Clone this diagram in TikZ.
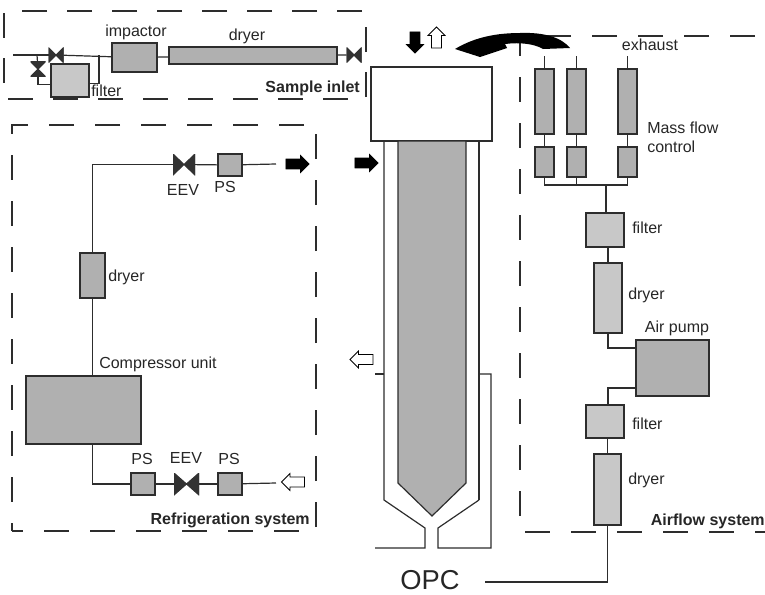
\documentclass[tikz,border=0pt]{standalone}
\usepackage{fontspec}
\setmainfont{Liberation Sans}
\usetikzlibrary{positioning,shapes.arrows,calc}
\definecolor{partdark}{RGB}{176,176,176}
\definecolor{partlight}{RGB}{200,200,200}
\definecolor{valvecolor}{RGB}{50,50,50}
\definecolor{linecolor}{RGB}{45,45,45}

\begin{document}
\begin{tikzpicture}[
    x=0.75pt, y=-0.75pt,
    sized/.style 2 args={minimum width=#1*0.75pt, minimum height=#2*0.75pt},
    part/.style={rectangle, draw=linecolor, line width=0.9pt, inner sep=0pt, outer sep=0pt},
    dark/.style={part, fill=partdark},
    light/.style={part, fill=partlight},
    valve/.style={rectangle, inner sep=0pt, outer sep=0pt, sized={15}{15},
        path picture={\filldraw[valvecolor, line width=0.8pt] (path picture bounding box.north west) -- (path picture bounding box.south east)
            -- (path picture bounding box.north east) -- (path picture bounding box.south west) -- cycle;}},
    valveup/.style={rectangle, inner sep=0pt, outer sep=0pt, sized={15}{15},
        path picture={\filldraw[valvecolor, line width=0.8pt] (path picture bounding box.north west) -- (path picture bounding box.south east)
            -- (path picture bounding box.south west) -- (path picture bounding box.north east) -- cycle;}},
    frame/.style 2 args={draw=linecolor, line width=0.8pt, dash pattern=on 18.75pt off #1pt, dash phase=#2pt},
    pipe/.style={draw=linecolor, line width=0.9pt},
    wall/.style={draw=linecolor, line width=0.9pt},
    flow/.style={single arrow, draw=black, line width=0.6pt, inner xsep=0pt, inner ysep=3.4pt,
        single arrow head extend=2.6pt, single arrow head indent=0pt, minimum height=#1*0.75pt},
    hot/.style={flow=#1, fill=black},
    cold/.style={flow=#1, fill=white},
    txt/.style={font=\fontsize{12}{14}\selectfont, inner sep=0pt, text=black!85},
    title/.style={txt, font=\fontsize{12}{14}\selectfont\bfseries}
]
\useasboundingbox (0,0) rectangle (765,594);

% ===== FRAMES =====
\node[rectangle, frame={15}{30.75}, sized={362}{88}] (inlet_frame) at (185,55) {};
\node[rectangle, frame={15.75}{10.5}, sized={304}{406}] (refrig_frame) at (164,328) {};
\coordinate (air_tr) at (765,36);
\coordinate (air_tl) at (520,36);
\coordinate (air_bl) at (520,532);
\coordinate (air_br) at (765,532);
\draw[frame={15.75}{27}] (air_tr) -- (air_tl) -- (air_bl) -- (air_br);

% ===== SAMPLE INLET =====
\coordinate (inlet_in) at (13,55);
\coordinate (tee_left) at (37,55);
\coordinate (tee_right) at (99,55);
\node[valve] (inlet_valve) at (56,55) {};
\node[valveup] (bypass_valve) at (38,69) {};
\node[light, sized={38}{33}] (inlet_filter) at (70,80.5) {};
\node[dark, sized={45}{29}] (impactor) at (134.5,57.5) {};
\node[dark, sized={168}{17}] (inlet_dryer) at (253,55.5) {};
\node[valve] (outlet_valve) at (354,55) {};

\node[txt] at (136,32) {impactor};
\node[txt] at (247,36) {dryer};
\node[txt, anchor=west] at (91,91) {filter};
\node[title, anchor=east] at (360,88) {Sample inlet};

\draw[pipe] (inlet_in) -- (inlet_valve);
\draw[pipe] (inlet_valve) -- (impactor);
\draw[pipe] (impactor) -- (inlet_dryer);
\draw[pipe] (inlet_dryer) -- (outlet_valve);
\draw[pipe] (tee_left) -- (bypass_valve);
\draw[pipe] (bypass_valve) |- ($(inlet_filter.west)+(0,4)$);
\draw[pipe] (tee_right) |- ($(inlet_filter.east)+(0,3)$);

% ===== REFRIGERATION SYSTEM =====
\coordinate (top_corner) at (92,164);
\coordinate (bottom_corner) at (92,483);
\coordinate (top_end) at (276,164);
\coordinate (bottom_end) at (276,483);
\node[valve, sized={22}{21}] (top_eev) at (184,164.5) {};
\node[dark, sized={24}{22}] (top_ps) at (230,165) {};
\node[dark, sized={25}{45}] (refrig_dryer) at (92.5,275.5) {};
\node[dark, sized={115}{68}] (compressor) at (83.5,410) {};
\node[dark, sized={24}{22}] (ps_one) at (143,484) {};
\node[valve, sized={25}{22}] (bottom_eev) at (186.5,484) {};
\node[dark, sized={24}{22}] (ps_two) at (230,484) {};

\node[txt] at (183,190) {EEV};
\node[txt] at (225,187) {PS};
\node[txt, anchor=west] at (108,277) {dryer};
\node[txt, anchor=west] at (99,364) {Compressor unit};
\node[txt] at (142,459) {PS};
\node[txt] at (186,458) {EEV};
\node[txt] at (229,459) {PS};
\node[title, anchor=east] at (310,520) {Refrigeration system};

\draw[pipe] (refrig_dryer.north) |- (top_eev);
\draw[pipe] (top_eev) -- (top_ps);
\draw[pipe] (top_ps) -- (top_end);
\draw[pipe] (refrig_dryer.south) -- (refrig_dryer.south |- compressor.north);
\draw[pipe] (refrig_dryer.south |- compressor.south) |- (ps_one);
\draw[pipe] (ps_one) -- (bottom_eev);
\draw[pipe] (bottom_eev) -- (ps_two);
\draw[pipe] (ps_two) -- (bottom_end);

\node[hot=23] (refrig_out) at (295,164) {};
\node[cold=23, rotate=180] (refrig_in) at (295.5,482) {};

% ===== CHAMBER =====
\node[part, fill=white, sized={121}{74}] (chamber) at (431.5,104) {};
\draw[wall, line width=1.8pt] (chamber.north west) -- (chamber.south west);
\coordinate (wall_l) at (384,141);
\coordinate (wall_r) at (479,141);
\coordinate (wall_lb) at (384,500);
\coordinate (wall_rb) at (479,500);
\coordinate (neck_lt) at (425,528);
\coordinate (neck_rt) at (438,528);
\coordinate (neck_lb) at (425,548);
\coordinate (neck_rb) at (438,548);
\coordinate (base_l) at (375,548);
\coordinate (base_r) at (491,548);
\coordinate (jacket_r) at (491,374);
\coordinate (jacket_w) at (479,374);
\coordinate (stub_l) at (375,374);
\coordinate (stub_w) at (384,374);
\draw[wall] (wall_l) -- (wall_lb) -- (neck_lt) -- (neck_lb) -- (base_l);
\draw[wall, line width=1.8pt] (wall_r) -- (wall_rb);
\draw[wall] (wall_rb) -- (neck_rt) -- (neck_rb) -- (base_r) -- (jacket_r) -- (jacket_w);
\draw[wall] (stub_l) -- (stub_w);

\coordinate (core_tl) at (398,141);
\coordinate (core_tr) at (466,141);
\coordinate (core_br) at (466,483);
\coordinate (core_tip) at (432,516);
\coordinate (core_bl) at (398,483);
\draw[wall, fill=partdark] (core_tl) -- (core_tr) -- (core_br) -- (core_tip) -- (core_bl) -- cycle;

\node[hot=23] (chamber_in) at (364,163) {};
\node[cold=23, rotate=180] (chamber_out) at (364,359.5) {};
\node[hot=21, rotate=-90] (sample_down) at (415,40) {};
\node[cold=21, rotate=90] (sample_up) at (436.5,40) {};

% ===== EXHAUST ARROW =====
\coordinate (bend_tip) at (455,49);
\coordinate (bend_tail) at (570,48);
\fill[black] (bend_tip) .. controls (470,40) and (490,33) .. (520,33)
    .. controls (545,32) and (562,38) .. (bend_tail) -- (543,49)
    .. controls (535,44) and (520,42) .. (505,44) -- (507,48) -- (480,57) -- cycle;

% ===== AIRFLOW SYSTEM =====
\node[dark, sized={19}{65}] (mfc_a) at (544.5,101.5) {};
\node[dark, sized={19}{65}] (mfc_b) at (576.5,101.5) {};
\node[dark, sized={19}{65}] (mfc_c) at (627.5,101.5) {};
\node[dark, sized={19}{30}] (ctrl_a) at (544.5,162) {};
\node[dark, sized={19}{30}] (ctrl_b) at (576.5,162) {};
\node[dark, sized={19}{30}] (ctrl_c) at (627.5,162) {};
\node[light, sized={38}{34}] (filter_a) at (605,230) {};
\node[light, sized={28}{70}] (dryer_a) at (608,298) {};
\node[dark, sized={73}{56}] (pump) at (672.5,368) {};
\node[light, sized={38}{33}] (filter_b) at (605,421.5) {};
\node[light, sized={27}{71}] (dryer_b) at (607.5,489.5) {};
\node[txt, inner sep=0pt] (opc) at (430,580) {\fontsize{20.5}{22}\selectfont OPC};

\coordinate (exhaust_a) at (544.5,56);
\coordinate (exhaust_b) at (576.5,56);
\coordinate (exhaust_c) at (627.5,56);
\coordinate (bus_a) at (544.5,185);
\coordinate (bus_c) at (627.5,185);
\coordinate (bus_mid) at (606,185);
\coordinate (pump_top) at (608,348);
\coordinate (pump_low) at (608,388);
\coordinate (opc_end) at (485,582);
\coordinate (opc_corner) at (607.5,582);

\foreach \name in {a,b,c} {
    \draw[pipe] (exhaust_\name) -- (mfc_\name);
    \draw[pipe] (mfc_\name) -- (ctrl_\name);
}
\draw[pipe] (ctrl_a.south) -- (bus_a) -- (bus_c) -- (ctrl_c.south);
\draw[pipe] (ctrl_b.south) -- (ctrl_b.south |- bus_a);
\draw[pipe] (bus_mid) -- (bus_mid |- filter_a.north);
\draw[pipe] (filter_a.south -| dryer_a) -- (dryer_a);
\draw[pipe, line width=1.5pt] (dryer_a.south) -- (pump_top) -- (pump_top -| pump.west);
\draw[pipe] (pump_low -| pump.west) -- (pump_low) -- (pump_low |- filter_b.north);
\draw[pipe] (filter_b.south -| dryer_b) -- (dryer_b);
\draw[pipe] (dryer_b.south) -- (opc_corner) -- (opc_end);

\node[txt] at (650,45) {exhaust};
\node[txt, anchor=west, align=left] at (647,137) {Mass flow\\control};
\node[txt, anchor=west] at (632,228) {filter};
\node[txt, anchor=west] at (628,295) {dryer};
\node[txt] at (677,328) {Air pump};
\node[txt, anchor=west] at (632,424) {filter};
\node[txt, anchor=west] at (628,480) {dryer};
\node[title, anchor=east] at (765,521) {Airflow system};

\end{tikzpicture}
\end{document}
